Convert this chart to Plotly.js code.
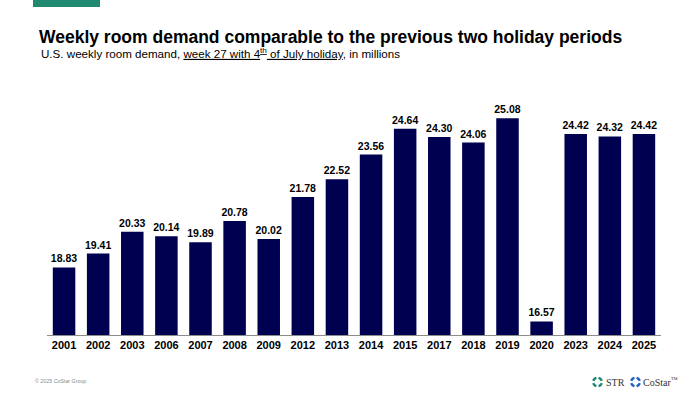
<!DOCTYPE html>
<html>
<head>
<meta charset="utf-8">
<script src="https://cdn.plot.ly/plotly-3.0.1.min.js"></script>
<style>
html,body{margin:0;padding:0;background:#fff;}
#chart{width:700px;height:394px;}
</style>
</head>
<body>
<div id="chart"></div>
<script>
const years = ["2001","2002","2003","2006","2007","2008","2009","2012","2013","2014","2015","2017","2018","2019","2020","2023","2024","2025"];
const demand = [18.83,19.41,20.33,20.14,19.89,20.78,20.02,21.78,22.52,23.56,24.64,24.30,24.06,25.08,16.57,24.42,24.32,24.42];

const titleText = "Weekly room demand comparable to the previous two holiday periods";
const subtitleText = "U.S. weekly room demand, <u>week 27 with 4<sup>th</sup> of July holiday</u>, in millions";
const footerText = "© 2025 CoStar Group";

// plot area in pixels
const L = 47, R = 661, T = 80, B = 335;
const px = x => (x - L) / (R - L);
const py = y => (B - y) / (B - T);

const FONT = "Liberation Sans, Arial, sans-serif";

const trace = {
  type: "bar",
  x: years,
  y: demand,
  marker: {color: "#000050", line: {width: 0}},
  text: demand.map(v => v.toFixed(2)),
  textposition: "outside",
  constraintext: "none",
  textfont: {family: FONT, size: 10.5, color: "#000", weight: "bold"},
  cliponaxis: false,
  hoverinfo: "x+y"
};

function ring(cx, cy, r, color) {
  const shapes = [];
  for (let k = 0; k < 4; k++) {
    const a0 = k * Math.PI / 2 + 0.25, a1 = a0 + Math.PI / 2 - 0.5;
    let d = "";
    const n = 6;
    for (let i = 0; i <= n; i++) {
      const a = a0 + (a1 - a0) * i / n;
      const X = px(cx + r * Math.cos(a)), Y = py(cy - r * Math.sin(a));
      d += (i === 0 ? "M" : "L") + X + "," + Y;
    }
    shapes.push({type: "path", xref: "paper", yref: "paper", path: d,
      line: {color: color, width: 2.4}});
  }
  return shapes;
}

const layout = {
  width: 700, height: 394,
  margin: {l: L, r: 700 - R, t: T, b: 394 - B, pad: 0},
  paper_bgcolor: "#fff",
  plot_bgcolor: "#fff",
  showlegend: false,
  bargap: 0.34,
  title: {
    text: "<b>" + titleText + "</b>",
    font: {family: FONT, size: 17.5, color: "#000"},
    xref: "container", yref: "container",
    x: 39 / 700, xanchor: "left",
    y: 1 - 37 / 394, yanchor: "middle"
  },
  xaxis: {
    type: "category",
    showline: true, linecolor: "#8c8c8c", linewidth: 1,
    ticks: "", showgrid: false, zeroline: false,
    tickfont: {family: FONT, size: 11, color: "#000", weight: "bold"},
    fixedrange: true
  },
  yaxis: {
    range: [16, 16 + (B - T) / 23.87],
    visible: false, showgrid: false, zeroline: false, fixedrange: true
  },
  shapes: [
    {type: "rect", xref: "paper", yref: "paper",
     x0: px(33), x1: px(100), y0: py(7), y1: py(-2),
     fillcolor: "#1f8a70", line: {width: 0}},
    ...ring(597.5, 382, 4.3, "#1f8a70"),
    ...ring(635.5, 382, 4.3, "#1f5fc8")
  ],
  annotations: [
    {text: subtitleText, xref: "paper", yref: "paper",
     x: px(39), y: py(53.5), xanchor: "left", yanchor: "middle",
     showarrow: false, font: {family: FONT, size: 11.6, color: "#000"}},
    {text: footerText, xref: "paper", yref: "paper",
     x: px(33), y: py(381), xanchor: "left", yanchor: "middle",
     showarrow: false, font: {family: FONT, size: 5.3, color: "#8a8a8a"}},
    {text: "STR", xref: "paper", yref: "paper",
     x: px(604), y: py(382), xanchor: "left", yanchor: "middle",
     showarrow: false, font: {family: "Liberation Serif, Times New Roman, serif", size: 10, color: "#333"}},
    {text: "CoStar<sup>™</sup>", xref: "paper", yref: "paper",
     x: px(641), y: py(382), xanchor: "left", yanchor: "middle",
     showarrow: false, font: {family: "Liberation Serif, Times New Roman, serif", size: 10, color: "#333"}}
  ]
};

Plotly.newPlot("chart", [trace], layout, {displayModeBar: false, staticPlot: true});
</script>
</body>
</html>
